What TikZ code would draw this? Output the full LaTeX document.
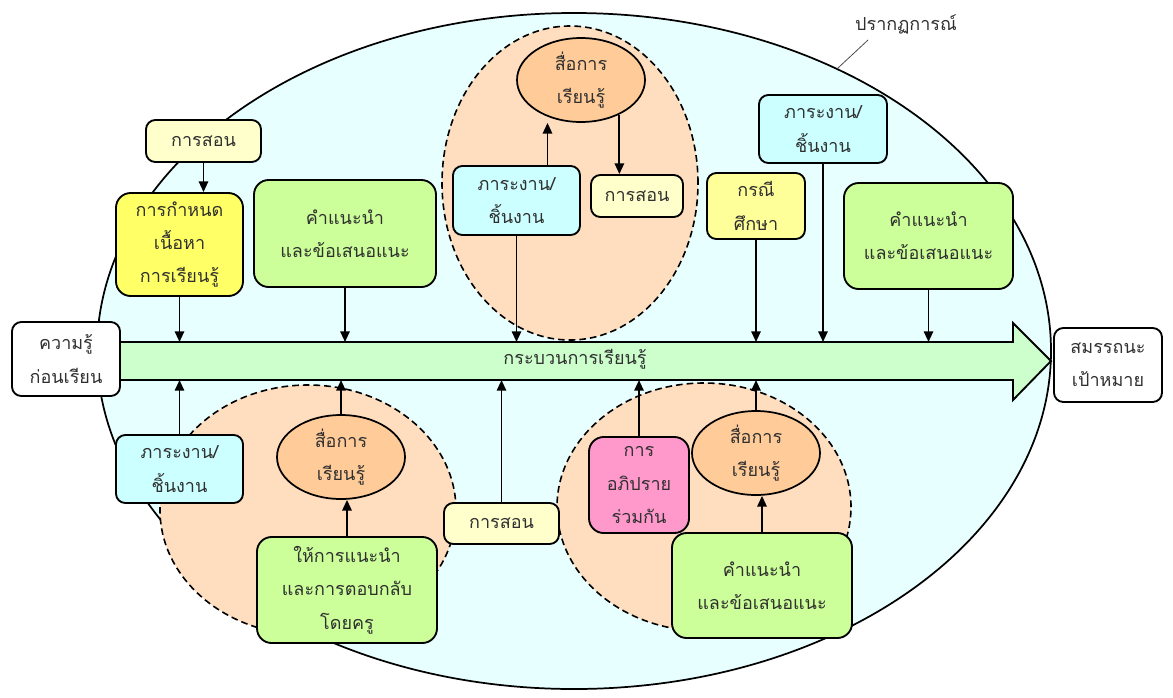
\documentclass[tikz,border=0pt]{standalone}
\usepackage{fontspec}
\newfontfamily\thaifont[Script=Thai]{Loma}
\usetikzlibrary{shapes.geometric,arrows.meta,calc}
\definecolor{bgcyan}{HTML}{E8FFFF}
\definecolor{peach}{HTML}{FFDDBF}
\definecolor{procgreen}{HTML}{CCFFCC}
\definecolor{ltyellow}{HTML}{FFFFCC}
\definecolor{yellowA}{HTML}{FFFF66}
\definecolor{yellowB}{HTML}{FFFF99}
\definecolor{limeg}{HTML}{CCFF99}
\definecolor{ltcyan}{HTML}{CCFFFF}
\definecolor{pinkc}{HTML}{FF99CC}
\definecolor{orangec}{HTML}{FFCC99}
\definecolor{txt}{HTML}{303030}
\tikzset{
  wh/.style 2 args={minimum width=#1*0.75pt, minimum height=#2*0.75pt},
  lbl/.style={font=\thaifont\fontsize{13.5}{25}\selectfont, text=txt, align=center, inner sep=0pt},
  box/.style={lbl, draw, line width=1.4pt, rounded corners=7pt},
  bigbox/.style={lbl, draw, line width=1.4pt, rounded corners=11pt},
  media/.style={lbl, ellipse, draw, line width=1.3pt, fill=orangec, wh={128}{84}},
  zone/.style={ellipse, draw, line width=1.2pt, dash pattern=on 5pt off 3pt, fill=peach},
  arr/.style={line width=1.4pt, -{Triangle[length=8pt,width=7pt]}}
}
\begin{document}
\begin{tikzpicture}[x=0.75pt,y=-0.75pt]
\useasboundingbox (0,0) rectangle (1173,697);
% background ellipse
\node[ellipse, draw, line width=1.3pt, fill=bgcyan, wh={954}{676}] (bigell) at (574,351) {};
\node[lbl] (phen) at (906,24) {ปรากฏการณ์};
\coordinate (phenend) at (868,40);
\draw[line width=0.6pt, black!70] (bigell.47) -- (phenend);
% dashed zones
\node[zone, wh={256}{314}] (zoneT) at (570,183) {};
\node[zone, wh={296}{250}] (zoneBL) at (308,510) {};
\node[zone, wh={294}{248}] (zoneBR) at (704,507) {};
% main process arrow
\path[draw, line width=1.4pt, fill=procgreen] (110,342) -- (1013,342) -- (1013,323) -- (1051,361) -- (1013,400) -- (1013,380) -- (110,380) -- cycle;
\node[lbl] (proc) at (575,359) {กระบวนการเรียนรู้};
\coordinate (bodyT) at (0,342);
\coordinate (bodyB) at (0,380);
% end boxes
\node[box, fill=white, wh={108}{74}] (pre) at (66,359) {ความรู้\\ก่อนเรียน};
\node[box, fill=white, wh={108}{74}] (goal) at (1108,365) {สมรรถนะ\\เป้าหมาย};
% top row
\node[box, fill=ltyellow, wh={115}{42}] (teachTL) at (203.5,141) {การสอน};
\node[bigbox, fill=yellowA, wh={127}{103}] (content) at (179.5,244.5) {การกำหนด\\เนื้อหา\\การเรียนรู้};
\node[bigbox, fill=limeg, wh={182}{107}] (adviceL) at (345,233.5) {คำแนะนำ\\และข้อเสนอแนะ};
\node[media] (mediaT) at (581,80) {สื่อการ\\เรียนรู้};
\node[box, fill=ltcyan, wh={127}{69}] (taskT) at (516.5,200.5) {ภาระงาน/\\ชิ้นงาน};
\node[box, fill=ltyellow, wh={92}{42}] (teachT) at (637,196) {การสอน};
\node[box, fill=yellowB, wh={98}{66}] (case) at (756,206) {กรณี\\ศึกษา};
\node[box, fill=ltcyan, wh={128}{68}] (taskTR) at (823,129) {ภาระงาน/\\ชิ้นงาน};
\node[bigbox, fill=limeg, wh={169}{106}] (adviceR) at (928.5,236) {คำแนะนำ\\และข้อเสนอแนะ};
% bottom row
\node[box, fill=ltcyan, wh={127}{68}] (taskBL) at (179.5,469) {ภาระงาน/\\ชิ้นงาน};
\node[media] (mediaBL) at (341,457) {สื่อการ\\เรียนรู้};
\node[bigbox, fill=limeg, wh={180}{106}] (guide) at (347,590) {ให้การแนะนำ\\และการตอบกลับ\\โดยครู};
\node[box, fill=ltyellow, wh={115}{41}] (teachB) at (501.5,523.5) {การสอน};
\node[bigbox, fill=pinkc, wh={100}{96}] (discuss) at (639,485) {การ\\อภิปราย\\ร่วมกัน};
\node[media] (mediaBR) at (756,453) {สื่อการ\\เรียนรู้};
\node[bigbox, fill=limeg, wh={180}{105}] (adviceBR) at (762,585.5) {คำแนะนำ\\และข้อเสนอแนะ};
% connectors, top
\draw[arr] (teachTL.south) -- (teachTL.south |- content.north);
\draw[arr] (content.south) -- (content.south |- bodyT);
\draw[arr] (adviceL.south) -- (adviceL.south |- bodyT);
\coordinate (tTup) at ($(taskT.north)+(31,0)$);
\draw[arr] (tTup) -- (tTup |- mediaT.south);
\draw[arr] (mediaT.-42) -- (mediaT.-42 |- teachT.north);
\draw[arr] (taskT.south) -- (taskT.south |- bodyT);
\draw[arr] (case.south) -- (case.south |- bodyT);
\draw[arr] (taskTR.south) -- (taskTR.south |- bodyT);
\draw[arr] (adviceR.south) -- (adviceR.south |- bodyT);
% connectors, bottom
\draw[arr] (taskBL.north) -- (taskBL.north |- bodyB);
\draw[arr] (mediaBL.north) -- (mediaBL.north |- bodyB);
\draw[arr] (guide.north) -- (guide.north |- mediaBL.south);
\draw[arr] (teachB.north) -- (teachB.north |- bodyB);
\draw[arr] (discuss.north) -- (discuss.north |- bodyB);
\draw[arr] (mediaBR.north) -- (mediaBR.north |- bodyB);
\draw[arr] (adviceBR.north) -- (adviceBR.north |- mediaBR.south);
\end{tikzpicture}
\end{document}
